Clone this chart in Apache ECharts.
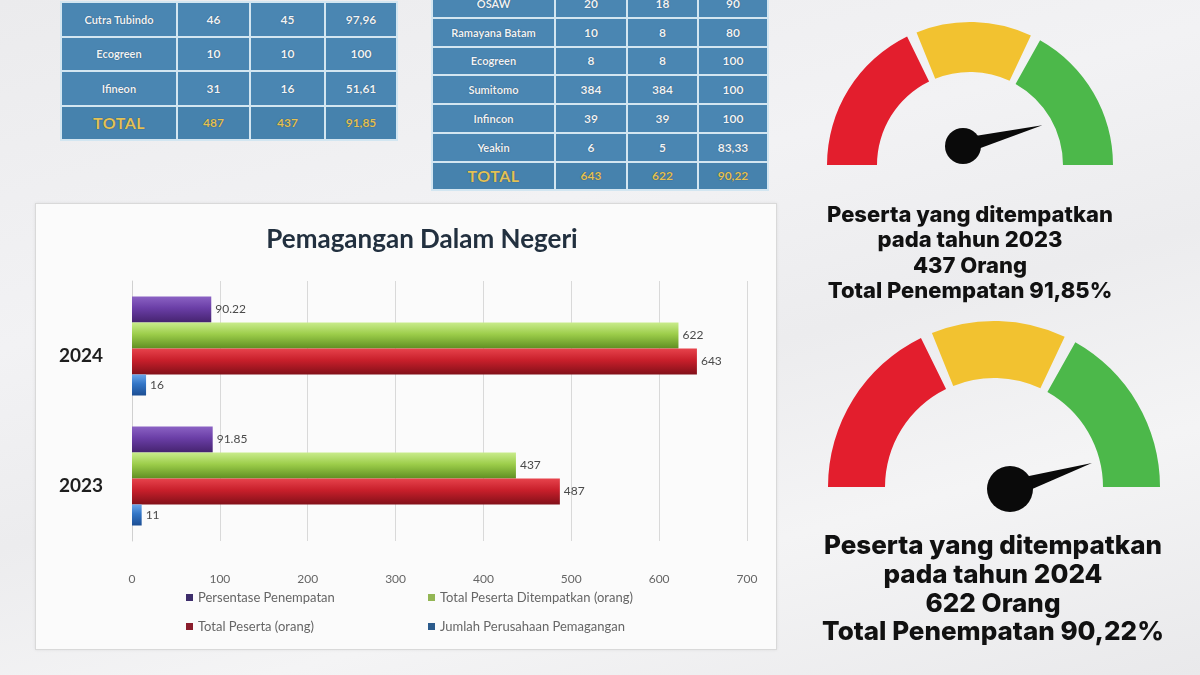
<!DOCTYPE html>
<html>
<head>
<meta charset="utf-8">
<script src="https://cdn.jsdelivr.net/npm/echarts@6/dist/echarts.min.js"></script>
<style>
html,body{margin:0;padding:0;width:1200px;height:675px;overflow:hidden;}
body{background:linear-gradient(165deg,#ebebed 0%,#f2f2f4 35%,#ececee 55%,#f4f4f5 75%,#e9e9eb 100%);position:relative;font-family:Lato,"Open Sans",sans-serif;}
.tbl{position:absolute;border-collapse:separate;border-spacing:2px;background:#d3e6f1;}
.tbl td{background:#4a86b2;color:#eef3f8;text-align:center;font-weight:bold;padding:0;text-shadow:0 0 1px #1d3d58;}
.tbl td.n{font-size:11px;}
.tbl td.v{font-size:12px;}
.tbl tr.tot td{color:#e3c257;background:#4682ad;}
.tbl tr.tot td.n{font-size:16px;letter-spacing:0.5px;}
#panel{position:absolute;left:35px;top:203px;width:740px;height:445px;background:#fbfbfb;border:1px solid #d9d9d9;box-shadow:0 0 3px rgba(0,0,0,0.08);}
#chart{position:absolute;left:0;top:0;width:1200px;height:675px;}
</style>
</head>
<body>
<table class="tbl" id="t1"></table>
<table class="tbl" id="t2"></table>
<div id="panel"></div>
<div id="chart"></div>
<script>
// ---- table data ----
const table2023Rows = [
  ['Cutra Tubindo', '46', '45', '97,96'],
  ['Ecogreen', '10', '10', '100'],
  ['Ifineon', '31', '16', '51,61'],
  ['TOTAL', '487', '437', '91,85']
];
const table2024Rows = [
  ['OSAW', '20', '18', '90'],
  ['Ramayana Batam', '10', '8', '80'],
  ['Ecogreen', '8', '8', '100'],
  ['Sumitomo', '384', '384', '100'],
  ['Infincon', '39', '39', '100'],
  ['Yeakin', '6', '5', '83,33'],
  ['TOTAL', '643', '622', '90,22']
];

// ---- chart data ----
const years = ['2023', '2024'];
const seriesNames = ['Persentase Penempatan', 'Total Peserta Ditempatkan (orang)', 'Total Peserta (orang)', 'Jumlah Perusahaan Pemagangan'];
const persentase = [91.85, 90.22];
const ditempatkan = [437, 622];
const totalPeserta = [487, 643];
const jumlahPerusahaan = [11, 16];
const xTicks = [0, 100, 200, 300, 400, 500, 600, 700];

// ---- gauge data ----
const gaugeYears = ['2023', '2024'];
const gaugeOrang = [437, 622];
const gaugePct = [91.85, 90.22];
const gaugePctText = ['91,85', '90,22'];

function buildTable(id, rows, left, top, colW, rowH, lastRowH) {
  const t = document.getElementById(id);
  t.style.left = left + 'px';
  t.style.top = top + 'px';
  rows.forEach((r, i) => {
    const tr = document.createElement('tr');
    if (r[0] === 'TOTAL') tr.className = 'tot';
    r.forEach((c, j) => {
      const td = document.createElement('td');
      td.textContent = c;
      td.className = j === 0 ? 'n' : 'v';
      td.style.width = colW[j] + 'px';
      td.style.height = (r[0] === 'TOTAL' ? lastRowH : rowH) + 'px';
      tr.appendChild(td);
    });
    t.appendChild(tr);
  });
}
buildTable('t1', table2023Rows, 60, 1, [114, 71, 73, 70], 32.5, 32);
buildTable('t2', table2024Rows, 431, -12, [121, 70, 69, 68], 26.8, 26);

function grad(c1, c2, c3) {
  return new echarts.graphic.LinearGradient(0, 0, 0, 1, [
    {offset: 0, color: c1}, {offset: 0.45, color: c2}, {offset: 1, color: c3}
  ]);
}
const colors = [
  grad('#8b62c4', '#6a3ea6', '#45236f'),
  grad('#c9ec8c', '#9ccd4a', '#5f8f22'),
  grad('#e7434c', '#c81f2b', '#821019'),
  grad('#6aa6ea', '#3275c6', '#1c4e93')
];
const legendColors = ['#3d2d6b', '#93b654', '#8a1d2c', '#2b5b8c'];
const values = [persentase, ditempatkan, totalPeserta, jumlahPerusahaan];

const barSeries = seriesNames.map((name, i) => ({
  name: name,
  type: 'bar',
  data: values[i],
  barWidth: i === 3 ? 21 : 26,
  barGap: '0%',
  barCategoryGap: '20%',
  itemStyle: {color: colors[i]},
  label: {
    show: true, position: 'right', distance: 4,
    color: '#4a4a4a', fontSize: 12, fontFamily: 'Lato'
  },
  z: 3
}));

const legendPos = [[181, 586], [423, 586], [181, 615], [423, 615]];
const legends = seriesNames.map((name, i) => ({
  data: [{name: name, itemStyle: {color: legendColors[i]}}],
  left: legendPos[i][0], top: legendPos[i][1],
  icon: 'rect', itemWidth: 7, itemHeight: 7, itemGap: 4,
  textStyle: {color: '#666', fontSize: 13, fontFamily: 'Lato'},
  selectedMode: false
}));

const gaugeGeom = [
  {c: [970, 165], r: 143, w: 50, hub: [963, 146], hubSize: 36, len: 82, pw: 16},
  {c: [994, 487], r: 166, w: 57, hub: [1010, 489], hubSize: 46, len: 86, pw: 18}
];
const gaugeSeries = [];
gaugeGeom.forEach((g, i) => {
  gaugeSeries.push({
    type: 'gauge', center: g.c, radius: g.r, startAngle: 180, endAngle: 0,
    min: 0, max: 100,
    axisLine: {lineStyle: {width: g.w, color: [
      [0.355, '#e31e2d'], [0.378, 'rgba(0,0,0,0)'],
      [0.64, '#f2c230'], [0.663, 'rgba(0,0,0,0)'],
      [1, '#4cb84a']
    ]}},
    pointer: {show: false}, anchor: {show: false},
    axisTick: {show: false}, splitLine: {show: false}, axisLabel: {show: false},
    title: {show: false}, detail: {show: false},
    data: [{value: gaugePct[i]}]
  });
  gaugeSeries.push({
    type: 'gauge', center: g.hub, radius: 100, startAngle: 180, endAngle: 0,
    min: 0, max: 100,
    axisLine: {show: false},
    pointer: {show: true, icon: 'triangle', length: g.len, width: g.pw, itemStyle: {color: '#0a0a0a'}},
    anchor: {show: true, showAbove: true, size: g.hubSize, itemStyle: {color: '#0a0a0a'}},
    axisTick: {show: false}, splitLine: {show: false}, axisLabel: {show: false},
    title: {show: false}, detail: {show: false},
    data: [{value: gaugePct[i]}]
  });
});

const textBlocks = [
  {x: 970, ys: [215, 240, 266, 291], size: 22},
  {x: 993, ys: [546, 575, 604, 632], size: 26}
];
const graphics = [];
textBlocks.forEach((b, i) => {
  const lines = [
    'Peserta yang ditempatkan',
    'pada tahun ' + gaugeYears[i],
    gaugeOrang[i] + ' Orang',
    'Total Penempatan ' + gaugePctText[i] + '%'
  ];
  lines.forEach((t, k) => {
    graphics.push({
      type: 'text', x: b.x, y: b.ys[k],
      style: {text: t, textAlign: 'center', textVerticalAlign: 'middle',
        font: '800 ' + b.size + 'px Inter, "Open Sans", sans-serif', fill: '#111'}
    });
  });
});

const chart = echarts.init(document.getElementById('chart'), null, {renderer: 'canvas'});
chart.setOption({
  backgroundColor: 'transparent',
  animation: false,
  title: {
    text: 'Pemagangan Dalam Negeri', left: 417, top: 222, textAlign: 'center',
    textStyle: {fontFamily: 'Lato', fontSize: 26, fontWeight: 'bold', color: '#22303f'}
  },
  legend: legends,
  grid: {left: 132, right: 453, top: 281, bottom: 134, containLabel: false},
  xAxis: {
    type: 'value', min: 0, max: 700, interval: 100,
    axisLine: {show: false}, axisTick: {show: false},
    axisLabel: {color: '#666', fontSize: 12, fontFamily: 'Lato', margin: 32,
      formatter: v => xTicks.includes(v) ? String(v) : ''},
    splitLine: {show: true, lineStyle: {color: '#d9d9d9', width: 1}}
  },
  yAxis: {
    type: 'category', data: years,
    axisLine: {show: true, lineStyle: {color: '#d0d0d0'}}, axisTick: {show: false},
    axisLabel: {color: '#1e1e1e', fontSize: 19, fontWeight: 'bold', fontFamily: 'Lato', margin: 29,
      verticalAlign: 'top'}
  },
  series: barSeries.concat(gaugeSeries),
  graphic: graphics
});
</script>
</body>
</html>
